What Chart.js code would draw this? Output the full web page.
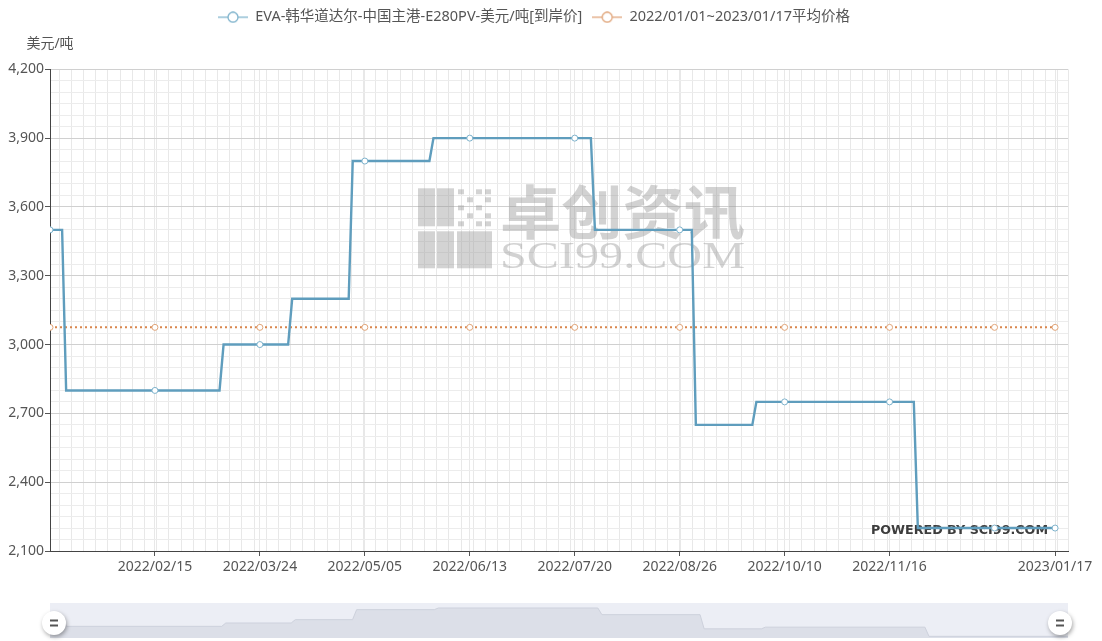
<!DOCTYPE html>
<html><head><meta charset="utf-8">
<script src="https://cdn.jsdelivr.net/npm/chart.js@4.4.1/dist/chart.umd.min.js"></script>
<style>
html,body{margin:0;padding:0;background:#fff;}
#wrap{position:relative;width:1102px;height:641px;overflow:hidden;}
#main{position:absolute;left:0;top:0;}
#nav{position:absolute;left:0;top:590px;}
</style></head><body>
<div id="wrap"><canvas id="main" width="1102" height="641"></canvas><canvas id="nav" width="1102" height="51"></canvas></div>
<script>
// ---- data (x = trading-day index counted from 2022/01/01) ----
const seriesName = 'EVA-韩华道达尔-中国主港-E280PV-美元/吨[到岸价]';
const avgName = '2022/01/01~2023/01/17平均价格';
const unitLabel = '美元/吨';
const tickDays = [26, 52, 78, 104, 130, 156, 182, 208, 249];
const tickLabels = ['2022/02/15','2022/03/24','2022/05/05','2022/06/13','2022/07/20','2022/08/26','2022/10/10','2022/11/16','2023/01/17'];
const yTicks = [2100, 2400, 2700, 3000, 3300, 3600, 3900, 4200];
const priceDays   = [0, 3, 4, 42, 43, 59, 60, 74, 75, 94, 95, 134, 135, 159, 160, 174, 175, 214, 215, 249];
const priceValues = [3500, 3500, 2800, 2800, 3000, 3000, 3200, 3200, 3800, 3800, 3900, 3900, 3500, 3500, 2650, 2650, 2750, 2750, 2200, 2200];
const markerDays   = [0, 26, 52, 78, 104, 130, 156, 182, 208, 234, 249];
const markerValues = [3500, 2800, 3000, 3800, 3900, 3900, 3500, 2750, 2750, 2200, 2200];
const avgDays   = [0, 26, 52, 78, 104, 130, 156, 182, 208, 234, 249];
const avgValues = [3075, 3075, 3075, 3075, 3075, 3075, 3075, 3075, 3075, 3075, 3075];

// ---- styles ----
const BLUE = '#5f9dbd', ORANGE = '#d9864e';
const X_MAX = 252.2;
Chart.defaults.font.family = "'Noto Sans', 'Noto Sans CJK SC', sans-serif";
Chart.defaults.color = '#555';

function buildPoints(days, values, mDays, mValues) {
  const pts = days.map((d, i) => ({x: d, y: values[i], m: false}));
  mDays.forEach((d, i) => {
    const hit = pts.find(p => p.x === d && p.y === mValues[i]);
    if (hit) hit.m = true; else pts.push({x: d, y: mValues[i], m: true});
  });
  return pts.sort((a, b) => a.x - b.x);
}
const pricePoints = buildPoints(priceDays, priceValues, markerDays, markerValues);
const avgPoints = avgDays.map((d, i) => ({x: d, y: avgValues[i], m: true}));

function legendIcon(color) {
  const c = document.createElement('canvas');
  c.width = 30; c.height = 12;
  const g = c.getContext('2d');
  g.strokeStyle = color; g.lineWidth = 1.3;
  g.beginPath(); g.moveTo(0, 6); g.lineTo(30, 6); g.stroke();
  g.beginPath(); g.arc(15, 6, 5, 0, Math.PI * 2);
  g.fillStyle = '#fff'; g.fill(); g.stroke();
  return c;
}
const icons = [legendIcon('#7fb3cc'), legendIcon('#e0a57a')];

const decor = {
  id: 'decor',
  beforeDatasetsDraw(chart) {
    const {ctx, chartArea: a} = chart;
    ctx.save();
    // watermark logo
    const lx = a.left + 368, ly = a.top + 119;
    ctx.fillStyle = 'rgba(150,150,150,0.42)';
    ctx.fillRect(lx, ly, 17, 38);
    ctx.fillRect(lx + 19, ly, 17, 38);
    ctx.fillRect(lx, ly + 43, 17, 37);
    ctx.fillRect(lx + 19, ly + 43, 17, 37);
    ctx.fillRect(lx + 39, ly + 43, 35, 37);
    const dots = [[0,0],[2,0],[3,0],[1,1],[3,1],[0,2],[2,2],[1,3],[3,3],[0,4],[2,4],[3,4]];
    dots.forEach(([i, j]) => ctx.fillRect(lx + 40 + i * 9, ly + 1 + j * 8, 6, 5));
    // watermark text
    ctx.fillStyle = 'rgba(155,155,155,0.45)';
    ctx.font = "700 58px 'Noto Sans CJK SC'";
    ctx.textBaseline = 'alphabetic';
    ctx.textAlign = 'left';
    let w = ctx.measureText('卓创资讯').width;
    ctx.save(); ctx.translate(lx + 82, ly + 46); ctx.scale(245 / w, 1);
    ctx.fillText('卓创资讯', 0, 0); ctx.restore();
    ctx.font = "38px 'Liberation Serif'";
    w = ctx.measureText('SCI99.COM').width;
    ctx.save(); ctx.translate(lx + 82, ly + 80); ctx.scale(245 / w, 1);
    ctx.fillText('SCI99.COM', 0, 0); ctx.restore();
    // powered by
    ctx.fillStyle = '#3d3d3d';
    ctx.font = "700 13px 'DejaVu Sans'";
    w = ctx.measureText('POWERED BY SCI99.COM').width;
    ctx.save(); ctx.translate(a.left + 821, a.top + 465); ctx.scale(177 / w, 1);
    ctx.fillText('POWERED BY SCI99.COM', 0, 0); ctx.restore();
    ctx.restore();
  },
  afterDraw(chart) {
    const {ctx, chartArea: a} = chart;
    ctx.save();
    ctx.fillStyle = '#555';
    ctx.font = "14px 'Noto Sans', 'Noto Sans CJK SC'";
    ctx.textAlign = 'center';
    ctx.textBaseline = 'middle';
    ctx.fillText(unitLabel, a.left, a.top - 25);
    ctx.restore();
  }
};

new Chart(document.getElementById('main'), {
  type: 'line',
  data: {
    datasets: [
      {
        label: seriesName, data: pricePoints,
        borderColor: BLUE, borderWidth: 2.4, backgroundColor: '#fff',
        pointRadius: c => (c.raw && c.raw.m ? 3 : 0),
        pointBorderColor: '#7fb3cc', pointBackgroundColor: '#fff', pointBorderWidth: 1,
        tension: 0, order: 1
      },
      {
        label: avgName, data: avgPoints,
        borderColor: ORANGE, borderWidth: 2, borderDash: [2, 3], backgroundColor: '#fff',
        pointRadius: 3, pointBorderColor: '#e0a57a', pointBackgroundColor: '#fff', pointBorderWidth: 1,
        tension: 0, order: 2
      }
    ]
  },
  options: {
    responsive: false, animation: false, events: [],
    layout: {padding: {left: 0, right: 34, top: 0, bottom: 60}},
    plugins: {
      tooltip: {enabled: false},
      title: {
        display: true, text: ' ', position: 'top', weight: 500,
        font: {size: 14}, padding: {top: 9, bottom: 9}
      },
      legend: {
        position: 'top', weight: 1000,
        labels: {
          usePointStyle: true, pointStyleWidth: 30, padding: 10,
          color: '#555', font: {size: 14.5},
          generateLabels(chart) {
            const items = Chart.defaults.plugins.legend.labels.generateLabels(chart);
            items.forEach((it, i) => { it.pointStyle = icons[i]; });
            return items;
          }
        }
      }
    },
    scales: {
      x: {
        type: 'linear', min: 0, max: X_MAX,
        afterBuildTicks(s) {
          const vals = new Set(tickDays);
          for (let k = 0; 2.3 + k * 3.016 < X_MAX - 1; k++) vals.add(+(2.3 + k * 3.016).toFixed(3));
          vals.add(X_MAX);
          s.ticks = [...vals].sort((a, b) => a - b).map(v => ({value: v}));
        },
        ticks: {
          autoSkip: false, maxRotation: 0, minRotation: 0, padding: 3,
          color: '#555', font: {size: 14},
          callback: v => { const i = tickDays.indexOf(v); return i >= 0 ? tickLabels[i] : ''; }
        },
        grid: {
          color: '#e8e8e8', lineWidth: 1, tickLength: 5,
          tickColor: c => (c.tick && tickDays.includes(c.tick.value) ? '#555' : 'rgba(0,0,0,0)')
        },
        border: {color: '#444', width: 1},
        afterFit(s) { s.height = 30; }
      },
      y: {
        type: 'linear', min: 2100, max: 4200,
        afterBuildTicks(s) {
          const t = [];
          for (let v = 2100; v <= 4200; v += 50) t.push({value: v});
          s.ticks = t;
        },
        ticks: {
          autoSkip: false, padding: 1, color: '#555', font: {size: 14},
          callback: v => (yTicks.includes(v) ? v.toLocaleString('en-US') : '')
        },
        grid: {
          lineWidth: 1, tickLength: 5,
          color: c => (c.tick && yTicks.includes(c.tick.value) ? '#d0d0d0' : '#ececec'),
          tickColor: c => (c.tick && yTicks.includes(c.tick.value) ? '#555' : 'rgba(0,0,0,0)')
        },
        border: {color: '#444', width: 1},
        afterFit(s) { s.width = 50; }
      }
    }
  },
  plugins: [decor]
});

// ---- data-zoom slider (mini chart of the same series) ----
const navDecor = {
  id: 'navDecor',
  beforeDatasetsDraw(chart) {
    const {ctx, chartArea: a} = chart;
    ctx.save();
    ctx.fillStyle = '#eceef5';
    ctx.fillRect(a.left, a.top, a.right - a.left, a.bottom - a.top);
    ctx.restore();
  },
  afterDraw(chart) {
    const {ctx, chartArea: a} = chart;
    const cy = a.top + 20;
    [a.left + 4, a.right - 8].forEach(cx => {
      ctx.save();
      ctx.shadowColor = 'rgba(0,0,0,0.35)'; ctx.shadowBlur = 4; ctx.shadowOffsetX = 1; ctx.shadowOffsetY = 2;
      ctx.beginPath(); ctx.arc(cx, cy, 12, 0, Math.PI * 2);
      ctx.fillStyle = '#fff'; ctx.fill();
      ctx.restore();
      ctx.save();
      ctx.strokeStyle = '#555'; ctx.lineWidth = 1.8;
      ctx.beginPath();
      ctx.moveTo(cx - 4, cy - 2.5); ctx.lineTo(cx + 4, cy - 2.5);
      ctx.moveTo(cx - 4, cy + 2.5); ctx.lineTo(cx + 4, cy + 2.5);
      ctx.stroke();
      ctx.restore();
    });
  }
};
new Chart(document.getElementById('nav'), {
  type: 'line',
  data: {datasets: [{
    data: priceDays.map((d, i) => ({x: d, y: priceValues[i]})),
    borderColor: '#cdd1dc', borderWidth: 1, backgroundColor: '#dcdfe8',
    fill: 'start', pointRadius: 0, tension: 0
  }]},
  options: {
    responsive: false, animation: false, events: [],
    layout: {padding: {left: 50, right: 34, top: 13, bottom: 3}},
    plugins: {legend: {display: false}, tooltip: {enabled: false}},
    scales: {
      x: {type: 'linear', display: false, min: 0, max: 249},
      y: {display: false, min: 2100, max: 4200}
    }
  },
  plugins: [navDecor]
});
</script>
</body></html>
